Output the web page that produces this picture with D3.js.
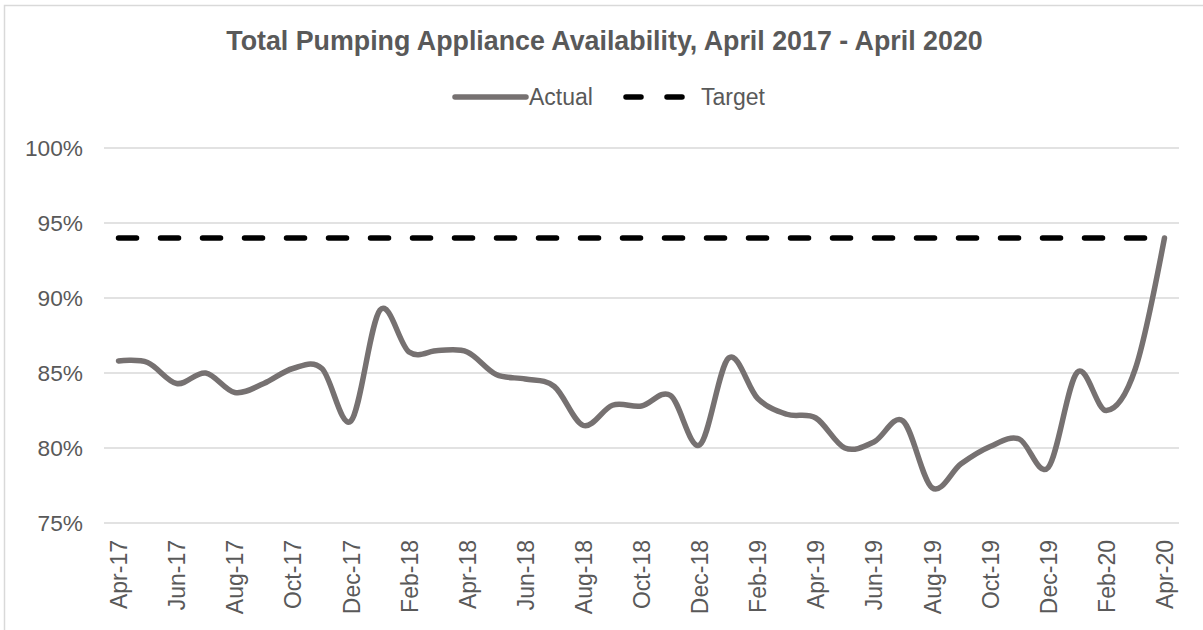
<!DOCTYPE html>
<html>
<head>
<meta charset="utf-8">
<script src="https://cdn.jsdelivr.net/npm/d3@7"></script>
<style>
  html, body { margin: 0; padding: 0; background: #fff; }
  svg { display: block; font-family: "Liberation Sans", Arial, sans-serif; }
</style>
</head>
<body>
<svg id="chart" width="1203" height="630"></svg>
<script>
const months = ["Apr-17","May-17","Jun-17","Jul-17","Aug-17","Sep-17","Oct-17","Nov-17","Dec-17",
  "Jan-18","Feb-18","Mar-18","Apr-18","May-18","Jun-18","Jul-18","Aug-18","Sep-18","Oct-18","Nov-18","Dec-18",
  "Jan-19","Feb-19","Mar-19","Apr-19","May-19","Jun-19","Jul-19","Aug-19","Sep-19","Oct-19","Nov-19","Dec-19",
  "Jan-20","Feb-20","Mar-20","Apr-20"];
const actual = [85.8, 85.7, 84.3, 85.0, 83.7, 84.3, 85.3, 85.3, 81.8,
  89.2, 86.4, 86.5, 86.4, 84.9, 84.6, 84.1, 81.5, 82.85, 82.8, 83.5, 80.2,
  86.0, 83.3, 82.25, 82.0, 80.0, 80.4, 81.8, 77.35, 78.95, 80.1, 80.6, 78.7,
  85.05, 82.5, 85.3, 94.0];
const targetValue = 94;
const yTicks = [75, 80, 85, 90, 95, 100];
const seriesNames = ["Actual", "Target"];
const titleText = "Total Pumping Appliance Availability, April 2017 - April 2020";

(function () {
const svg = d3.select("#chart");
const pLeft = 104, pRight = 1179, pTop = 148, pBottom = 523;
const grey = "#595959";

// outer border
svg.append("rect").attr("x", 4.5).attr("y", 5.5).attr("width", 1220).attr("height", 650)
  .attr("fill", "none").attr("stroke", "#d9d9d9").attr("stroke-width", 1.5);

const x = d3.scalePoint().domain(months).range([pLeft, pRight]).padding(0.5);
const y = d3.scaleLinear().domain([75, 100]).range([pBottom, pTop]);

// gridlines
svg.append("g").selectAll("line").data(yTicks).join("line")
  .attr("x1", pLeft).attr("x2", pRight)
  .attr("y1", d => y(d)).attr("y2", d => y(d))
  .attr("stroke", "#d9d9d9").attr("stroke-width", 1.5);

// y axis
const yAxis = d3.axisLeft(y).tickValues(yTicks).tickFormat(d => d + "%").tickSize(0).tickPadding(21);
const gy = svg.append("g").attr("transform", `translate(${pLeft},0)`).call(yAxis);
gy.select(".domain").remove();
gy.selectAll("text").attr("fill", grey).style("font-size", "22.7px").attr("font-family", "Liberation Sans, Arial, sans-serif");

// x axis
const xAxis = d3.axisBottom(x).tickValues(months.filter((d, i) => i % 2 === 0)).tickSize(0).tickPadding(0);
const gx = svg.append("g").attr("transform", `translate(0,${pBottom})`).call(xAxis);
gx.select(".domain").remove();
gx.selectAll("text")
  .attr("fill", grey).style("font-size", "23px").attr("font-family", "Liberation Sans, Arial, sans-serif")
  .attr("transform", "rotate(-90)")
  .attr("text-anchor", "end")
  .attr("x", -17).attr("y", 0).attr("dy", "0.35em");

// target line
svg.append("line")
  .attr("x1", x(months[0])).attr("x2", x(months[months.length - 1]))
  .attr("y1", y(targetValue)).attr("y2", y(targetValue))
  .attr("stroke", "#000").attr("stroke-width", 5.5)
  .attr("stroke-linecap", "round").attr("stroke-dasharray", "18 24");

// actual line
const line = d3.line().x((d, i) => x(months[i])).y(d => y(d)).curve(d3.curveCatmullRom.alpha(0));
svg.append("path").datum(actual).attr("d", line)
  .attr("fill", "none").attr("stroke", "#767171").attr("stroke-width", 5.5)
  .attr("stroke-linecap", "round").attr("stroke-linejoin", "round");

// title
svg.append("text").attr("x", 604.5).attr("y", 49.5).attr("text-anchor", "middle")
  .attr("fill", grey).style("font-size", "26.8px").style("font-weight", "bold").text(titleText);

// legend
const lg = svg.append("g");
lg.append("line").attr("x1", 455).attr("x2", 526).attr("y1", 97).attr("y2", 97)
  .attr("stroke", "#767171").attr("stroke-width", 5.5).attr("stroke-linecap", "round");
lg.append("text").attr("x", 529).attr("y", 105).attr("fill", grey).style("font-size", "23px").text(seriesNames[0]);
lg.append("line").attr("x1", 626).attr("x2", 688).attr("y1", 97).attr("y2", 97)
  .attr("stroke", "#000").attr("stroke-width", 5.5).attr("stroke-linecap", "round")
  .attr("stroke-dasharray", "15 26");
lg.append("text").attr("x", 701).attr("y", 105).attr("fill", grey).style("font-size", "23px").text(seriesNames[1]);
})();
</script>
</body>
</html>
